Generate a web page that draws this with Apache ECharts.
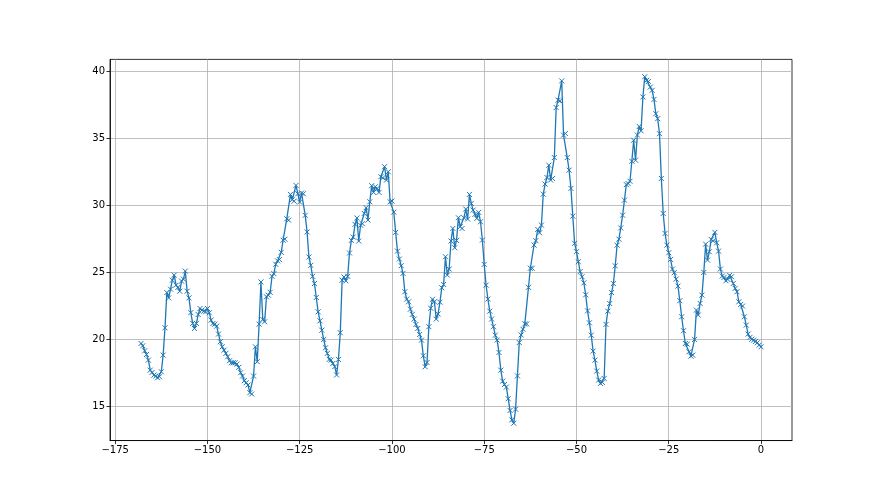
<!DOCTYPE html>
<html><head><meta charset="utf-8">
<script src="https://cdn.jsdelivr.net/npm/echarts@6/dist/echarts.min.js"></script>
<style>html,body{margin:0;padding:0;background:#fff}#c{width:880px;height:495px}</style>
</head><body><div id="c"></div>
<script>
// Half-hourly readings, hours relative to the last sample
const startHour = -168;
const stepHours = 0.5;
const day1 = [19.70,19.53,19.15,18.88,18.46,17.71,17.54,17.34,17.27,17.14,17.22,17.59,18.83,20.87,23.50,23.10,23.75,24.42,24.80,24.05,23.88,23.60,24.35,24.50,25.10,23.60,23.10,22.00,21.20,20.82,21.20,21.86,22.31,22.19,22.11,22.06,22.31,21.99,21.44,21.19,21.14,20.99,20.40,19.83,19.45,19.20,18.96,18.71];
const day2 = [18.41,18.26,18.26,18.26,18.16,17.92,17.52,17.27,16.92,16.77,16.60,16.03,15.93,17.27,19.45,18.34,21.14,24.29,21.49,21.32,23.18,23.30,23.52,24.71,24.91,25.61,25.86,25.96,26.50,27.40,27.48,29.00,28.90,30.82,30.42,30.32,31.49,30.87,30.25,30.92,30.87,29.26,28.02,26.15,25.53,24.71,24.17,23.13];
const day3 = [22.06,21.39,20.69,20.00,19.38,18.96,18.51,18.46,18.21,17.97,17.35,18.51,20.50,24.42,24.66,24.37,24.71,26.45,27.39,27.64,28.59,29.06,27.34,28.52,28.63,29.40,29.83,28.91,30.27,31.47,30.97,31.39,31.27,30.97,32.14,32.06,32.89,31.89,32.51,30.27,30.32,29.50,27.99,26.59,26.00,25.50,24.93,23.56];
const day4 = [23.01,22.81,22.26,21.87,21.52,21.12,20.82,20.37,19.95,18.78,17.96,18.28,20.95,22.33,23.00,22.81,21.52,21.90,22.78,23.86,24.10,26.17,24.80,25.25,27.34,28.28,26.84,27.39,29.08,28.41,28.28,29.08,29.73,28.98,30.82,30.15,29.65,29.33,29.03,29.48,28.78,27.41,25.60,24.05,23.01,22.11,21.52,20.95];
const day5 = [20.32,19.95,19.03,17.71,16.89,16.64,16.45,15.58,14.70,14.00,13.75,14.80,17.28,19.77,20.34,20.76,21.16,21.16,23.89,25.31,25.31,27.04,27.37,28.21,27.96,28.53,30.84,31.59,32.08,33.00,31.89,32.01,33.57,37.30,37.85,37.80,39.29,35.24,35.36,33.57,32.63,31.27,29.20,27.17,26.55,25.80,25.06,24.68];
const day6 = [24.22,23.33,22.13,21.24,20.32,19.13,18.46,17.64,16.97,16.72,16.80,17.09,21.12,22.11,22.68,23.50,24.17,25.49,27.03,27.48,28.32,29.27,30.39,31.55,31.63,31.80,33.29,34.86,33.37,35.25,35.89,35.57,38.09,39.60,39.33,39.25,38.83,38.58,37.91,36.84,36.47,35.35,32.01,29.40,27.91,27.04,26.47,25.97];
const day7 = [25.25,24.98,24.50,23.98,22.89,21.69,20.65,19.70,19.65,19.08,18.76,18.83,20.00,22.19,21.82,22.69,23.31,25.00,27.11,25.92,26.54,27.46,27.36,27.99,27.21,26.59,25.25,24.73,24.63,24.38,24.48,24.78,24.68,24.18,23.81,23.56,22.81,22.61,22.49,21.69,21.07,20.40,20.15,20.02,19.95,19.85,19.75,19.58,19.45];
const xTicks = [-175,-150,-125,-100,-75,-50,-25,0];
const yTicks = [15,20,25,30,35,40];

const values = [].concat(day1, day2, day3, day4, day5, day6, day7);
const points = values.map((v, i) => [startHour + i * stepHours, v]);

// matplotlib-like 5% margins
const xMinD = startHour, xMaxD = startHour + (values.length - 1) * stepHours;
const yMinD = Math.min.apply(null, values), yMaxD = Math.max.apply(null, values);
const xm = (xMaxD - xMinD) * 0.05, ym = (yMaxD - yMinD) * 0.05;

const chart = echarts.init(document.getElementById('c'), null, {renderer: 'canvas'});
const font = 'DejaVu Sans';
chart.setOption({
  animation: false,
  backgroundColor: '#fff',
  grid: {left: 110, right: 88, top: 59.4, bottom: 54.45, show: true, borderColor: '#000', borderWidth: 0.8, backgroundColor: 'transparent', outerBoundsMode: 'none', containLabel: false},
  xAxis: {
    type: 'value', min: xMinD - xm, max: xMaxD + xm,
    axisLine: {show: true, onZero: false, lineStyle: {color: '#000', width: 0.8}},
    axisTick: {show: true, customValues: xTicks, length: 3.5, lineStyle: {color: '#000', width: 0.8}},
    axisLabel: {show: true, customValues: xTicks, color: '#000', fontSize: 10, fontFamily: font, margin: 5,
      formatter: v => String(v).replace('-', '\u2212')},
    splitLine: {show: true, lineStyle: {color: '#b0b0b0', width: 0.8}}
  },
  yAxis: {
    type: 'value', min: yMinD - ym, max: yMaxD + ym,
    axisLine: {show: true, onZero: false, lineStyle: {color: '#000', width: 0.8}},
    axisTick: {show: true, customValues: yTicks, length: 3.5, lineStyle: {color: '#000', width: 0.8}},
    axisLabel: {show: true, customValues: yTicks, color: '#000', fontSize: 10, fontFamily: font, margin: 5},
    splitLine: {show: true, lineStyle: {color: '#b0b0b0', width: 0.8}}
  },
  series: [{
    type: 'line',
    data: points,
    showSymbol: true,
    showAllSymbol: true,
    symbol: 'path://M0,0L10,10M0,10L10,0',
    symbolSize: 5,
    itemStyle: {color: '#1f77b4', borderColor: '#1f77b4', borderWidth: 1},
    lineStyle: {color: '#1f77b4', width: 1.3},
    emphasis: {disabled: true},
    silent: true
  }]
});
</script></body></html>
